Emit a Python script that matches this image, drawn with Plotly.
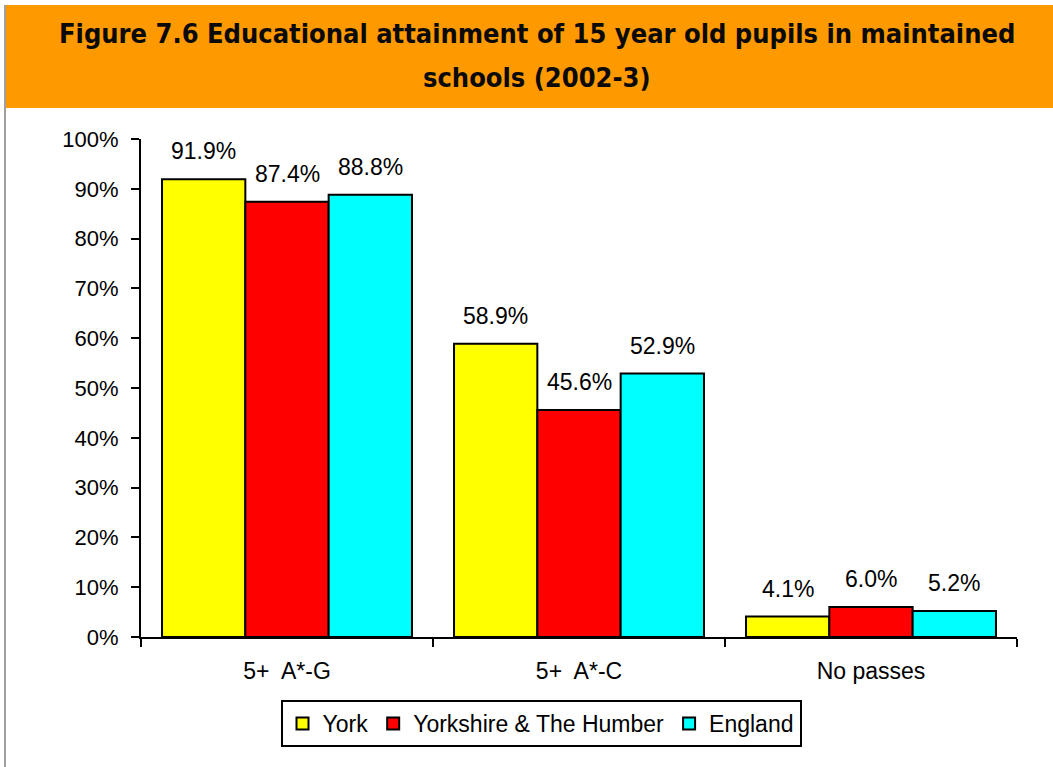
import plotly.graph_objects as go

categories = ["5+\u00a0 A*-G", "5+\u00a0 A*-C", "No passes"]
series_names = ["York", "Yorkshire & The Humber", "England"]
york = [0.919, 0.589, 0.041]
yorkshire = [0.874, 0.456, 0.060]
england = [0.888, 0.529, 0.052]
colors = ["#FFFF00", "#FF0000", "#00FFFF"]
y_ticks = [0, 0.1, 0.2, 0.3, 0.4, 0.5, 0.6, 0.7, 0.8, 0.9, 1.0]
title_lines = ["Figure 7.6 Educational attainment of 15 year old pupils in maintained",
               "schools (2002-3)"]

W, H = 1053, 767
L, R, T, B = 141, 1017, 139, 637
BARGAP = 0.144

def px(x):
    return (x - L) / (R - L)

def py(y):
    return (B - y) / (B - T)

group_px = (R - L) / len(categories)
bar_px = group_px * (1 - BARGAP) / len(series_names)

fig = go.Figure()
annotations = []
all_series = [york, yorkshire, england]
for i, (name, vals, col) in enumerate(zip(series_names, all_series, colors)):
    fig.add_trace(go.Bar(
        x=categories, y=vals, name=name,
        marker=dict(color=col, line=dict(color="black", width=2)),
    ))
    for cat, v in zip(categories, vals):
        annotations.append(dict(
            x=cat, y=v, xref="x", yref="y", text=f"{v*100:.1f}%",
            showarrow=False, xanchor="center", yanchor="bottom",
            xshift=(i - 1) * bar_px, yshift=13,
            font=dict(family="Liberation Sans, Arial", size=23, color="black"),
        ))

for k, (line, yc) in enumerate(zip(title_lines, [33, 77])):
    annotations.append(dict(
        text=line, xref="paper", yref="paper",
        x=px(537), y=py(yc), xanchor="center", yanchor="middle",
        showarrow=False,
        font=dict(family="DejaVu Sans Condensed", size=27, color="#0a0a0a", weight="bold"),
    ))

fig.update_layout(
    width=W, height=H,
    margin=dict(l=L, r=W - R, t=T, b=H - B),
    paper_bgcolor="white", plot_bgcolor="white",
    barmode="group", bargap=BARGAP, bargroupgap=0,
    font=dict(family="Liberation Sans, Arial", size=22, color="black"),
    showlegend=True,
    legend=dict(
        orientation="h", x=px(541), xanchor="center", y=py(700), yanchor="top",
        bordercolor="black", borderwidth=2, font=dict(size=23),
        itemwidth=30, tracegroupgap=0,
    ),
    xaxis=dict(
        type="category", showline=True, linecolor="black", linewidth=2,
        ticks="outside", tickson="boundaries", ticklen=8, tickwidth=2, tickcolor="black",
        tickfont=dict(size=23), showgrid=False, ticklabelstandoff=12,
    ),
    yaxis=dict(
        range=[0, 1], tickvals=y_ticks, tickformat=".0%",
        showline=True, linecolor="black", linewidth=2,
        ticks="outside", ticklen=8, tickwidth=2, tickcolor="black",
        showgrid=False, zeroline=False, ticklabelstandoff=8,
    ),
    shapes=[
        dict(type="rect", xref="paper", yref="paper",
             x0=px(5), x1=px(1053), y0=py(108), y1=py(5),
             fillcolor="#FF9900", line=dict(width=0), layer="below"),
        dict(type="line", xref="paper", yref="paper",
             x0=px(5), x1=px(5), y0=py(5), y1=py(767),
             line=dict(color="#A0A0A0", width=2)),
    ],
    annotations=annotations,
)

fig.write_html("out.html", config={"displayModeBar": False},
               post_script="document.body.style.margin='0';")
